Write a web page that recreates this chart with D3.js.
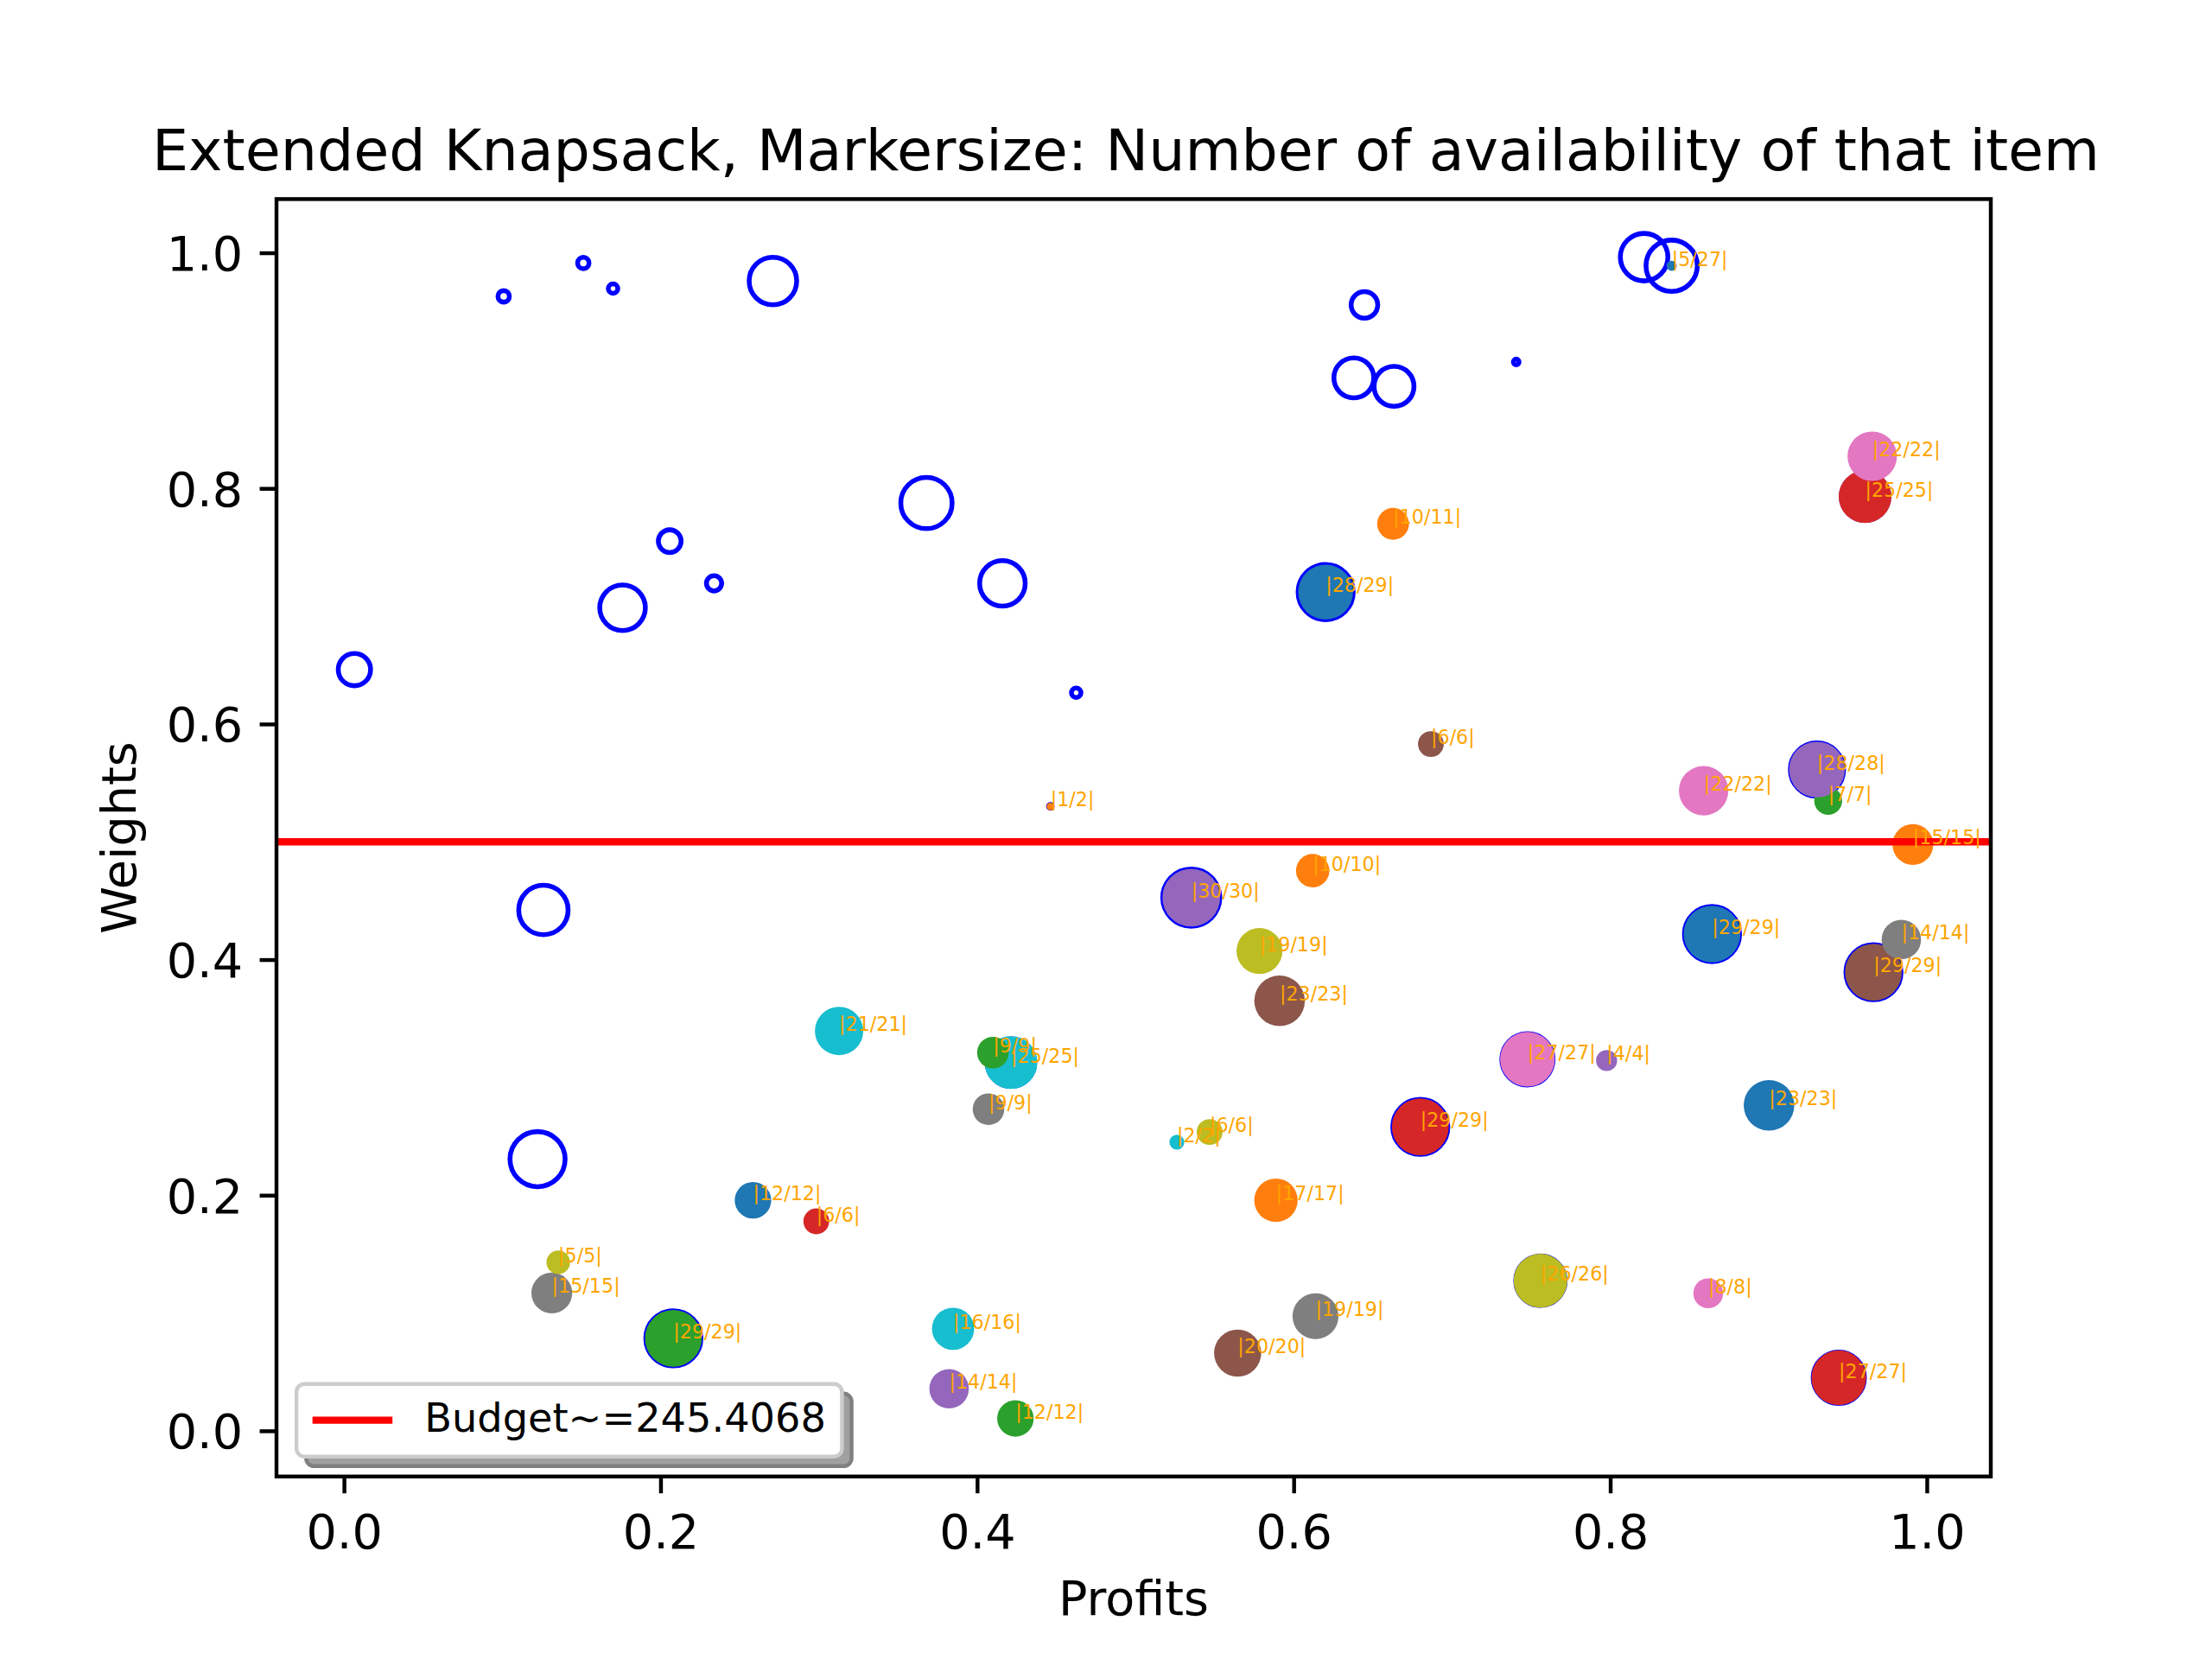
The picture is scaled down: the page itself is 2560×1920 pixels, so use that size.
<!DOCTYPE html>
<html><head><meta charset="utf-8">
<script src="https://cdn.jsdelivr.net/npm/d3@7"></script>
<style>
body{margin:0;background:#fff}
svg{display:block}
text{font-family:"DejaVu Sans",sans-serif}
</style>
</head><body>
<svg id="chart" width="2560" height="1920"></svg>
<script>
// ---- Data: selected items, in plotting order (colour cycles through tab10) ----
const selProfits = [0.6202,0.6628,0.9377,0.9610,0.9306,0.9663,0.9655,0.9839,0.5784,0.4214,
                    0.8388,0.4463,0.4100,0.6800,0.5353,0.6867,0.8590,0.1313,0.1354,0.3128,
                    0.8643,0.9912,0.2081,0.2984,0.7977,0.5911,0.7477,0.4072,0.5469,0.5262,
                    0.9003,0.6120,0.4242,0.9444,0.3823,0.5646,0.8619,0.6138,0.7559,0.3848,
                    0.2584,0.5888];
const selWeights = [0.7120,0.7699,0.5348,0.7930,0.5613,0.3893,0.8273,0.4170,0.4073,0.3126,
                    0.9890,0.5300,0.3210,0.2580,0.4526,0.5830,0.5434,0.1170,0.1430,0.3394,
                    0.4217,0.4977,0.0785,0.1778,0.3143,0.3650,0.3154,0.2730,0.2536,0.2450,
                    0.2763,0.4755,0.0105,0.0450,0.0357,0.0660,0.1167,0.0973,0.1274,0.0866,
                    0.1957,0.1957];
const selTaken   = [28,10,7,25,28,29,22,14,19,25,
                    5,1,9,29,30,6,22,15,5,21,
                    29,15,29,6,4,23,27,9,6,2,
                    23,10,12,27,14,20,8,19,26,16,
                    12,17];
const selAvail   = [29,11,7,25,28,29,22,14,19,25,
                    27,2,9,29,30,6,22,15,5,21,
                    29,15,29,6,4,23,27,9,6,2,
                    23,10,12,27,14,20,8,19,26,16,
                    12,17];
// ---- Data: items not taken ----
const offProfits = [0.1009,0.1512,0.1700,0.2710,0.2058,0.2338,0.1760,0.0066,0.3680,0.4160,
                    0.4626,0.6447,0.6380,0.6634,0.7406,0.8214,0.1260,0.1223];
const offWeights = [0.9630,0.9913,0.9696,0.9760,0.7552,0.7194,0.6987,0.6462,0.7876,0.7194,
                    0.6265,0.9558,0.8938,0.8866,0.9073,0.9963,0.4421,0.2306];
const offAvail   = [6,6,5,25,12,8,24,17,27,24,
                    5,14,21,21,3,25,26,29];
const budgetLevel = 0.5;
const budgetLabel = "Budget~=245.4068";
const xTicks = [0.0,0.2,0.4,0.6,0.8,1.0];
const yTicks = [0.0,0.2,0.4,0.6,0.8,1.0];
const titleText = "Extended Knapsack, Markersize: Number of availability of that item";
const xLabel = "Profits";
const yLabel = "Weights";

// ---- Layout ----
const W = 2560, H = 1920;
const L = 320, R = 2304, T = 230.4, B = 1708.8;
const PT = 400/72;           // px per point
const fs = 10*PT;            // 55.6
const svg = d3.select("#chart");

const allX = selProfits.concat(offProfits), allY = selWeights.concat(offWeights);
function padded(ext){ const r = ext[1]-ext[0]; return [ext[0]-0.05*r, ext[1]+0.05*r]; }
const x = d3.scaleLinear().domain(padded(d3.extent(allX))).range([L,R]);
const y = d3.scaleLinear().domain(padded(d3.extent(allY))).range([B,T]);

const ringR = d3.scaleLinear().domain([0,1]).range([0,1.1]);     // ring radius ~ availability
const fillR = d3.scaleSqrt().domain([0,1]).range([0,6.1]);        // filled radius

svg.append("rect").attr("width",W).attr("height",H).attr("fill","#fff");
svg.append("defs").append("clipPath").attr("id","clip")
   .append("rect").attr("x",L).attr("y",T).attr("width",R-L).attr("height",B-T);

const plot = svg.append("g").attr("clip-path","url(#clip)");

// rings (availability)
const rings = offProfits.map((p,i)=>({x:p,y:offWeights[i],n:offAvail[i]}))
  .concat(selProfits.map((p,i)=>({x:p,y:selWeights[i],n:selAvail[i]})));
plot.selectAll("circle.ring").data(rings).join("circle")
  .attr("class","ring")
  .attr("cx",d=>x(d.x)).attr("cy",d=>y(d.y)).attr("r",d=>ringR(d.n))
  .attr("fill","none").attr("stroke","#0000ff").attr("stroke-width",1.0*PT);

// filled (taken)
const sel = selProfits.map((p,i)=>({x:p,y:selWeights[i],k:selTaken[i],n:selAvail[i],i}));
plot.selectAll("circle.fill").data(sel).join("circle")
  .attr("class","fill")
  .attr("cx",d=>x(d.x)).attr("cy",d=>y(d.y)).attr("r",d=>fillR(d.k*d.k/d.n))
  .attr("fill",d=>d3.schemeCategory10[d.i%10]);

// budget line
svg.append("line").attr("x1",L).attr("x2",R)
  .attr("y1",y(budgetLevel)).attr("y2",y(budgetLevel))
  .attr("stroke","#ff0000").attr("stroke-width",1.5*PT);

// labels
svg.selectAll("text.lab").data(sel).join("text")
  .attr("class","lab")
  .attr("x",d=>x(d.x)).attr("y",d=>y(d.y))
  .attr("font-size",4*PT).attr("fill","orange")
  .text(d=>`|${d.k}/${d.n}|`);

// axes
const tl = 3.5*PT, tw = 0.8*PT;
const xa = svg.append("g").attr("transform",`translate(0,${B})`)
  .call(d3.axisBottom(x).tickValues(xTicks).tickFormat(d3.format(".1f")).tickSize(tl).tickPadding(tl));
const ya = svg.append("g").attr("transform",`translate(${L},0)`)
  .call(d3.axisLeft(y).tickValues(yTicks).tickFormat(d3.format(".1f")).tickSize(tl).tickPadding(tl));
[xa,ya].forEach(a=>{
  a.select(".domain").remove();
  a.selectAll(".tick line").attr("stroke","#000").attr("stroke-width",tw);
  a.selectAll(".tick text").attr("font-size",fs).attr("fill","#000")
   .attr("font-family","DejaVu Sans");
});
xa.selectAll(".tick text").attr("dy","0.8em");
ya.selectAll(".tick text").attr("dy","0.36em");

// spines
svg.append("rect").attr("x",L).attr("y",T).attr("width",R-L).attr("height",B-T)
  .attr("fill","none").attr("stroke","#000").attr("stroke-width",tw);

// title & axis labels
svg.append("text").attr("x",(L+R)/2-9).attr("y",T-6*PT).attr("text-anchor","middle")
  .attr("font-size",12*PT).attr("fill","#000").text(titleText);
svg.append("text").attr("x",(L+R)/2).attr("y",1869).attr("text-anchor","middle")
  .attr("font-size",fs).attr("fill","#000").text(xLabel);
svg.append("text").attr("transform",`translate(157,${(T+B)/2}) rotate(-90)`)
  .attr("text-anchor","middle").attr("font-size",fs).attr("fill","#000").text(yLabel);

// legend
const lfs = 8.33*PT;
const lg = svg.append("g");
const lt = lg.append("text").attr("font-size",lfs).attr("fill","#000").text(budgetLabel);
const tW = lt.node().getComputedTextLength();
const lx = L + 0.5*lfs, lb = B - 0.5*lfs;
const lwid = 0.4*lfs + 2*lfs + 0.8*lfs + tW + 0.4*lfs;
const lhei = 84;
const ltop = lb - lhei;
const sh = 2*PT;
lg.insert("rect","text").attr("x",lx+sh).attr("y",ltop+sh).attr("width",lwid).attr("height",lhei)
  .attr("rx",0.2*lfs).attr("fill","#a0a0a0").attr("stroke","#808080").attr("stroke-width",PT*0.8);
lg.insert("rect","text").attr("x",lx).attr("y",ltop).attr("width",lwid).attr("height",lhei)
  .attr("rx",0.2*lfs).attr("fill","#fff").attr("stroke","#cccccc").attr("stroke-width",PT*0.8);
lg.append("line").attr("x1",lx+0.4*lfs).attr("x2",lx+2.4*lfs)
  .attr("y1",ltop+0.4*lfs+23.5).attr("y2",ltop+0.4*lfs+23.5)
  .attr("stroke","#ff0000").attr("stroke-width",1.5*PT);
lt.attr("x",lx+3.2*lfs).attr("y",1657);
</script>
</body></html>
